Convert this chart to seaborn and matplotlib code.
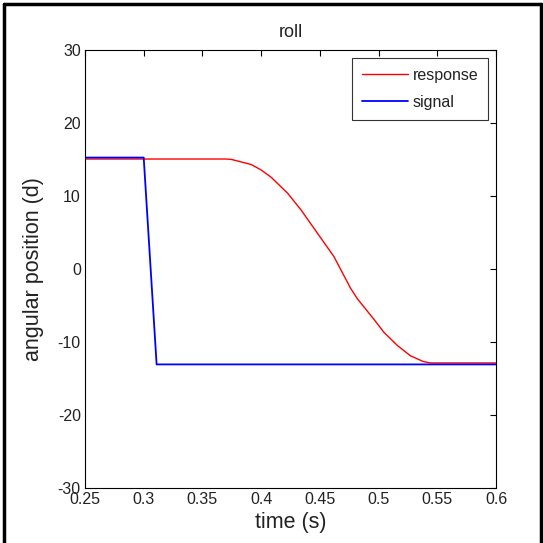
import matplotlib
matplotlib.use("Agg")
import matplotlib.pyplot as plt
import seaborn as sns
import pandas as pd
from matplotlib.lines import Line2D

# data
response_t = [0.25, 0.30, 0.37, 0.3746, 0.3915, 0.40, 0.4085, 0.4226, 0.434, 0.448, 0.462,
              0.476, 0.482, 0.496, 0.5046, 0.516, 0.527, 0.538, 0.544, 0.55, 0.565, 0.6]
response_v = [15.1, 15.1, 15.1, 15.05, 14.35, 13.6, 12.6, 10.4, 8.1, 4.9, 1.7,
              -2.6, -4.1, -6.9, -8.7, -10.5, -11.9, -12.7, -12.9, -12.9, -12.9, -12.9]
signal_t = [0.25, 0.30, 0.311, 0.6]
signal_v = [15.3, 15.3, -13.1, -13.1]
x_ticks = [0.25, 0.3, 0.35, 0.4, 0.45, 0.5, 0.55, 0.6]
x_tick_labels = ["0.25", "0.3", "0.35", "0.4", "0.45", "0.5", "0.55", "0.6"]
y_ticks = [-30, -20, -10, 0, 10, 20, 30]

sns.set_style("white")
plt.rcParams["font.family"] = ["Liberation Sans", "DejaVu Sans"]
plt.rcParams["axes.unicode_minus"] = False

txt = "#222222"

df_r = pd.DataFrame({"t": response_t, "v": response_v})
df_s = pd.DataFrame({"t": signal_t, "v": signal_v})

fig = plt.figure(figsize=(5.43, 5.43), dpi=100)
ax = fig.add_axes([0.1565, 0.1022, 0.757, 0.8048])

sns.lineplot(data=df_r, x="t", y="v", ax=ax, color="#ff0000", lw=1.0, label="response",
             estimator=None, sort=False)
sns.lineplot(data=df_s, x="t", y="v", ax=ax, color="#0000ff", lw=1.3, label="signal",
             estimator=None, sort=False)

ax.set_xlim(0.25, 0.6)
ax.set_ylim(-30, 30)
ax.set_xticks(x_ticks)
ax.set_xticklabels(x_tick_labels)
ax.set_yticks(y_ticks)
ax.tick_params(direction="in", length=4, width=0.8, top=True, right=True,
               labelsize=11.5, pad=3, colors="black", labelcolor=txt)
for s in ax.spines.values():
    s.set_visible(True)
    s.set_color("black")
    s.set_linewidth(0.8)

ax.set_title("roll", fontsize=13, pad=10, color=txt)
ax.set_xlabel("time (s)", fontsize=15.5, labelpad=4, color=txt)
ax.set_ylabel("angular position (d)", fontsize=15.5, labelpad=10, color=txt)

handles = [Line2D([], [], color="#ff0000", lw=1.0), Line2D([], [], color="#0000ff", lw=1.3)]
leg = ax.legend(handles, ["response", "signal"], loc="upper right", fontsize=11.5,
                frameon=True, fancybox=False, edgecolor="black", handlelength=2.9,
                borderaxespad=0.5, handletextpad=0.3, labelspacing=0.75, borderpad=0.6)
leg.get_frame().set_linewidth(0.8)
for t in leg.get_texts():
    t.set_color(txt)

# screenshot-like border on the figure
for xs, ys in [([0.007, 0.007], [0, 0.993]), ([0.007, 0.997], [0.993, 0.993]),
               ([0.997, 0.997], [0, 0.993])]:
    fig.add_artist(Line2D(xs, ys, color="black", lw=2.5, transform=fig.transFigure))

fig.savefig("out.png", dpi=100)
